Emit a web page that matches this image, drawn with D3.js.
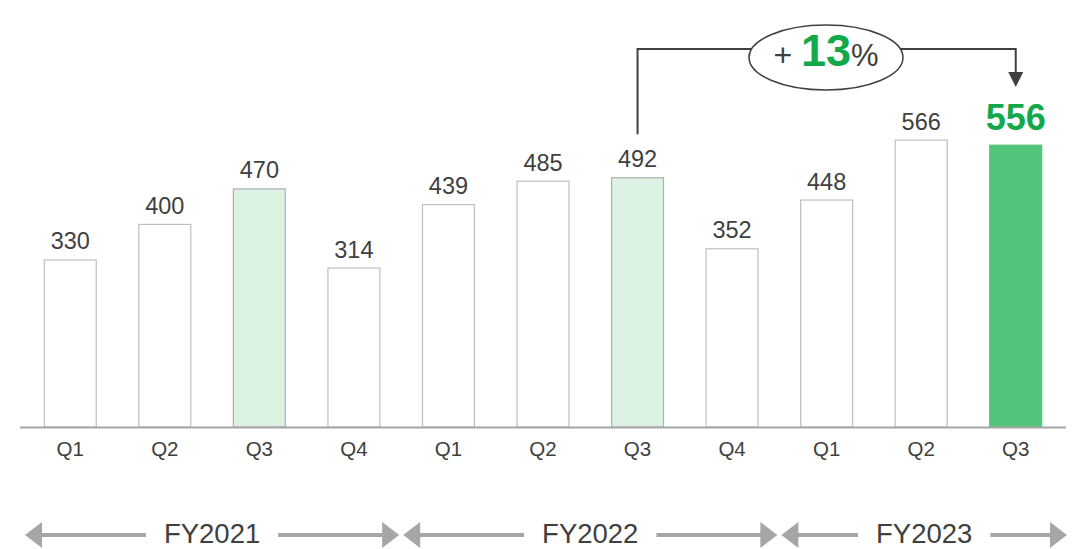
<!DOCTYPE html>
<html>
<head>
<meta charset="utf-8">
<script src="https://cdn.jsdelivr.net/npm/d3@7"></script>
<style>
  html, body { margin: 0; padding: 0; background: #ffffff; }
  svg { display: block; font-family: "Liberation Sans", Arial, sans-serif; }
</style>
</head>
<body>
<svg id="chart" width="1078" height="549"></svg>
<script>
// Quarterly values, FY2021 Q1 through FY2023 Q3
const quarters = ["Q1", "Q2", "Q3", "Q4", "Q1", "Q2", "Q3", "Q4", "Q1", "Q2", "Q3"];
const fiscalYears = ["FY2021", "FY2021", "FY2021", "FY2021", "FY2022", "FY2022", "FY2022", "FY2022", "FY2023", "FY2023", "FY2023"];
const values = [330, 400, 470, 314, 439, 485, 492, 352, 448, 566, 556];
// Bar style key: plain, highlighted Q3 of earlier years, current quarter
const barKinds = ["plain", "plain", "q3", "plain", "plain", "plain", "q3", "plain", "plain", "plain", "current"];
const yearLabels = ["FY2021", "FY2022", "FY2023"];
const growthLabel = { sign: "+ ", value: "13", unit: "%" };
const growthFrom = 6, growthTo = 10;

const svg = d3.select("#chart");
const baseY = 427;

const x = d3.scaleBand()
  .domain(d3.range(values.length))
  .range([23, 1063])
  .paddingInner(0.44)
  .paddingOuter(0.22);

const y = d3.scaleLinear().domain([0, 841]).range([baseY, 0]);

const fillFor = { plain: "#ffffff", q3: "#dcf2e3", current: "#53c57a" };
const strokeFor = { plain: "#bfbfbf", q3: "#b0b0b0", current: "#53c57a" };

// Bars
svg.append("g").selectAll("rect")
  .data(values)
  .join("rect")
  .attr("x", (d, i) => x(i) + 0.5)
  .attr("y", d => y(d) + 0.5)
  .attr("width", x.bandwidth() - 1)
  .attr("height", d => baseY - y(d) - 0.5)
  .attr("fill", (d, i) => fillFor[barKinds[i]])
  .attr("stroke", (d, i) => strokeFor[barKinds[i]])
  .attr("stroke-width", 1.2);

// Baseline
svg.append("line")
  .attr("x1", 20).attr("x2", 1066)
  .attr("y1", baseY + 0.5).attr("y2", baseY + 0.5)
  .attr("stroke", "#a6a6a6").attr("stroke-width", 2);

// Value labels
svg.append("g").selectAll("text")
  .data(values)
  .join("text")
  .attr("x", (d, i) => x(i) + x.bandwidth() / 2)
  .attr("y", (d, i) => barKinds[i] === "current" ? y(d) - 15 : y(d) - 10)
  .attr("text-anchor", "middle")
  .attr("font-size", (d, i) => barKinds[i] === "current" ? 36 : 23.5)
  .attr("font-weight", (d, i) => barKinds[i] === "current" ? "bold" : "normal")
  .attr("fill", (d, i) => barKinds[i] === "current" ? "#13a84a" : "#404040")
  .text(d => d);

// Quarter labels
svg.append("g").selectAll("text")
  .data(quarters)
  .join("text")
  .attr("x", (d, i) => x(i) + x.bandwidth() / 2)
  .attr("y", 456)
  .attr("text-anchor", "middle")
  .attr("font-size", 20.5)
  .attr("fill", "#404040")
  .text(d => d);

// Fiscal year spans with double-headed arrows
const step = x.step();
const gapOuter = step * x.paddingInner() / 2;
const spans = yearLabels.map(fy => {
  const idx = d3.range(values.length).filter(i => fiscalYears[i] === fy);
  const first = idx[0], last = idx[idx.length - 1];
  return {
    label: fy,
    x0: x(first) - gapOuter + 2,
    x1: x(last) + x.bandwidth() + gapOuter - 2
  };
});
// stretch outer ends to the baseline extent
spans[0].x0 = 25;
spans[spans.length - 1].x1 = 1067;

const arrowY = 535;
const headLen = 17, headHalf = 13;
const gy = svg.append("g");
spans.forEach(s => {
  const cx = (s.x0 + s.x1) / 2;
  const t = gy.append("text")
    .attr("x", cx).attr("y", 543)
    .attr("text-anchor", "middle")
    .attr("font-size", 27.5)
    .attr("fill", "#404040")
    .text(s.label);
  const half = t.node().getComputedTextLength() / 2;
  const gap = 18;
  gy.append("line")
    .attr("x1", s.x0 + headLen - 1).attr("x2", cx - half - gap)
    .attr("y1", arrowY).attr("y2", arrowY)
    .attr("stroke", "#a6a6a6").attr("stroke-width", 4);
  gy.append("line")
    .attr("x1", cx + half + gap).attr("x2", s.x1 - headLen + 1)
    .attr("y1", arrowY).attr("y2", arrowY)
    .attr("stroke", "#a6a6a6").attr("stroke-width", 4);
  gy.append("path")
    .attr("d", `M${s.x0},${arrowY} L${s.x0 + headLen},${arrowY - headHalf} L${s.x0 + headLen},${arrowY + headHalf} Z`)
    .attr("fill", "#a6a6a6");
  gy.append("path")
    .attr("d", `M${s.x1},${arrowY} L${s.x1 - headLen},${arrowY - headHalf} L${s.x1 - headLen},${arrowY + headHalf} Z`)
    .attr("fill", "#a6a6a6");
});

// Year-over-year growth connector
const fromX = x(growthFrom) + x.bandwidth() / 2;
const toX = x(growthTo) + x.bandwidth() / 2;
const lineY = 49;
const ell = { cx: 826, cy: 57.5, rx: 77, ry: 32.5 };
const ga = svg.append("g");
const dyE = lineY - ell.cy;
const dxE = ell.rx * Math.sqrt(1 - (dyE * dyE) / (ell.ry * ell.ry));
ga.append("path")
  .attr("d", `M${fromX},${y(values[growthFrom]) - 43} V${lineY} H${ell.cx - dxE}`)
  .attr("fill", "none").attr("stroke", "#404040").attr("stroke-width", 2);
const tipY = 87;
ga.append("path")
  .attr("d", `M${ell.cx + dxE},${lineY} H${toX} V${tipY - 14}`)
  .attr("fill", "none").attr("stroke", "#404040").attr("stroke-width", 2);
ga.append("path")
  .attr("d", `M${toX},${tipY} L${toX - 7.5},${tipY - 15} L${toX + 7.5},${tipY - 15} Z`)
  .attr("fill", "#404040");
ga.append("ellipse")
  .attr("cx", ell.cx).attr("cy", ell.cy)
  .attr("rx", ell.rx).attr("ry", ell.ry)
  .attr("fill", "#ffffff").attr("stroke", "#404040").attr("stroke-width", 1.5);
const gt = ga.append("text")
  .attr("x", ell.cx).attr("y", 66)
  .attr("text-anchor", "middle");
gt.append("tspan").attr("font-size", 32).attr("fill", "#404040").text(growthLabel.sign);
gt.append("tspan").attr("font-size", 45).attr("font-weight", "bold").attr("fill", "#13a84a").text(growthLabel.value);
gt.append("tspan").attr("font-size", 31).attr("fill", "#404040").text(growthLabel.unit);
</script>
</body>
</html>
